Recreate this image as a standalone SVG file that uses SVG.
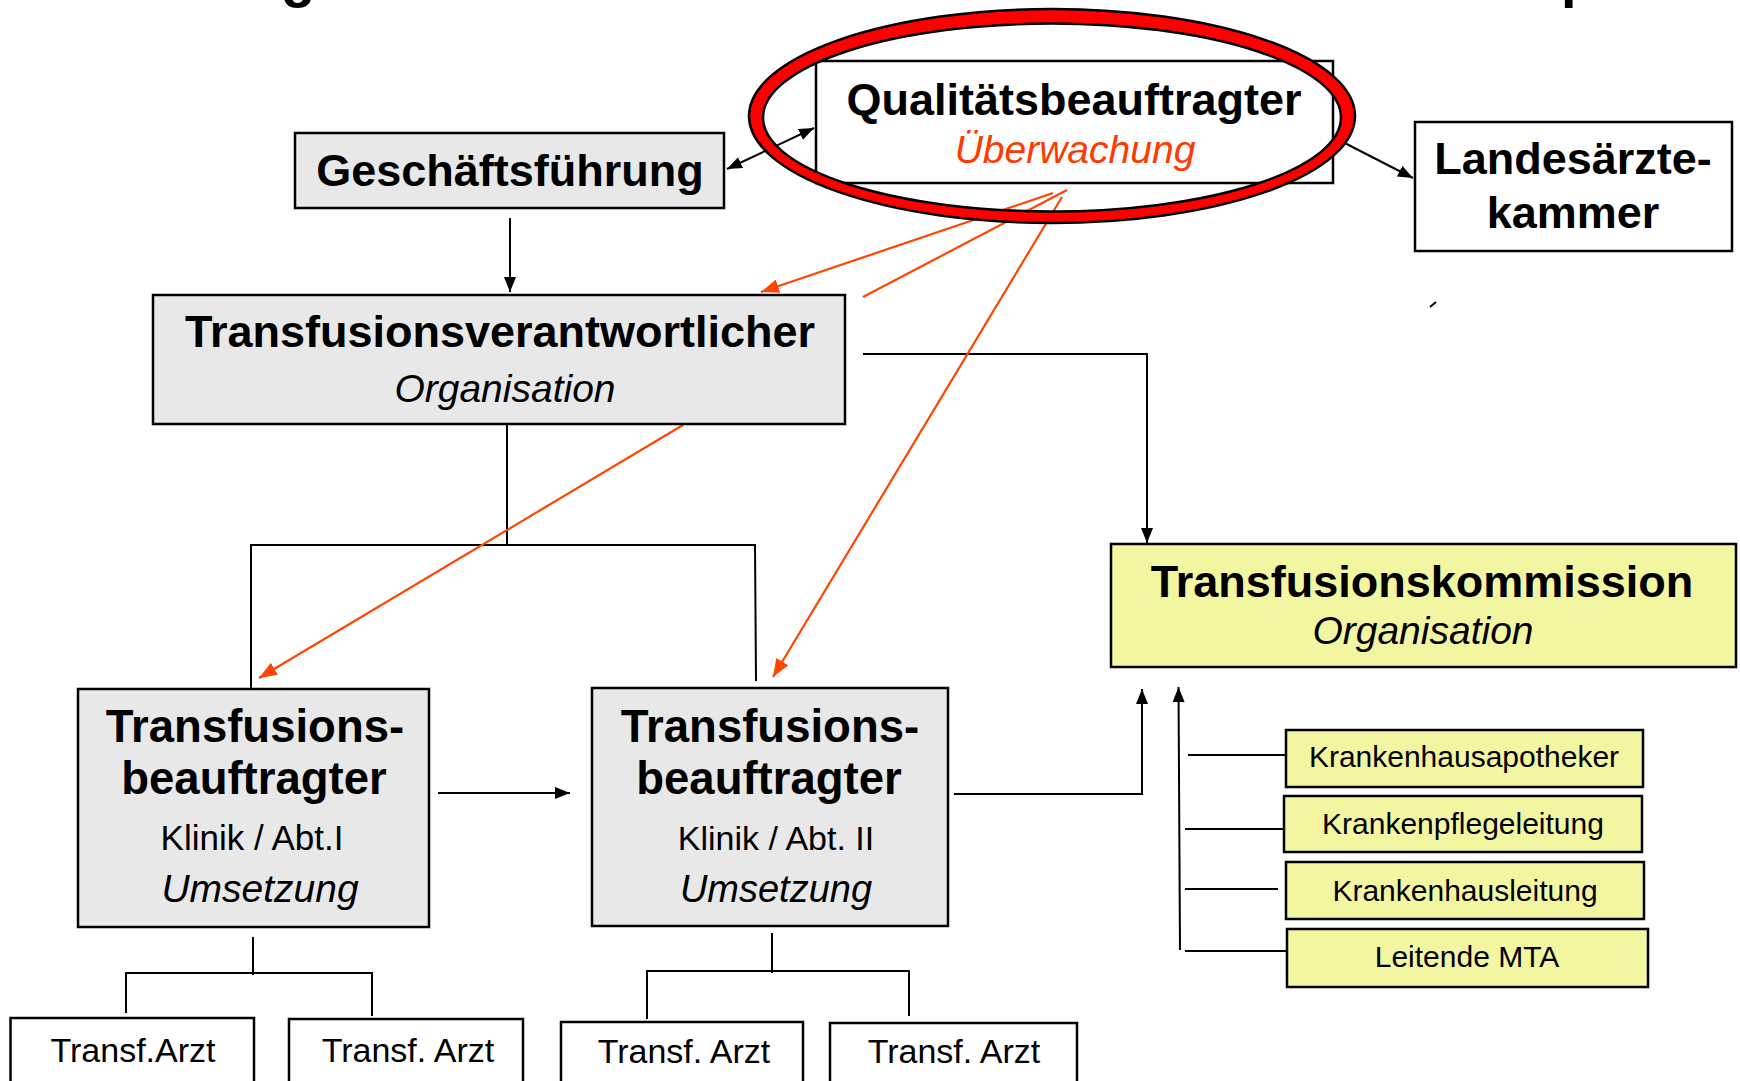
<svg xmlns="http://www.w3.org/2000/svg" width="1740" height="1081" viewBox="0 0 1740 1081">
  <style>
    .box { stroke: #000; stroke-width: 2.5; }
    .white { fill: #fff; }
    .grey { fill: #e8e8e8; }
    .yellow { fill: #f3f6a0; }
    text { font-family: "Liberation Sans", Arial, sans-serif; text-anchor: middle; fill: #000; }
    .b45 { font-size: 45px; font-weight: bold; }
    .b46 { font-size: 45.5px; font-weight: bold; }
    .i39 { font-size: 39px; font-style: italic; }
    .r34 { font-size: 34px; }
    .r30 { font-size: 30px; }
    .red { fill: #ff3a00; }
    .line { fill: none; stroke: #000; stroke-width: 2; }
    .oline { fill: none; stroke: #ff4500; stroke-width: 2.2; }
  </style>
  <defs>
    <marker id="ah" viewBox="0 0 15 12" refX="15" refY="6" markerWidth="15" markerHeight="12" markerUnits="userSpaceOnUse" orient="auto-start-reverse">
      <path d="M0,0 L15,6 L0,12 z" fill="#000"/>
    </marker>
    <marker id="ahOrange" viewBox="0 0 18 14" refX="18" refY="7" markerWidth="18" markerHeight="14" markerUnits="userSpaceOnUse" orient="auto">
      <path d="M0,0 L18,7 L0,14 z" fill="#ff4500"/>
    </marker>
  </defs>

  <rect width="1740" height="1081" fill="#fff"/>

  <!-- title descenders clipped by the top edge -->
  <g id="title-fragment">
    <text x="281" y="-4" style="font-size:56px;font-weight:bold;text-anchor:start">g</text>
    <text x="1561" y="-4" style="font-size:56px;font-weight:bold;text-anchor:start">p</text>
  </g>

  <g id="connectors">
    <line class="line" x1="727" y1="169" x2="814" y2="128" marker-start="url(#ah)" marker-end="url(#ah)"/>
    <line class="line" x1="1333" y1="137" x2="1413" y2="178" marker-end="url(#ah)"/>
    <line class="line" x1="510" y1="218" x2="510" y2="292" marker-end="url(#ah)"/>
    <polyline class="line" points="863,354 1147,354 1147,543" marker-end="url(#ah)"/>
    <!-- Transfusionsverantwortlicher to the two departments -->
    <line class="line" x1="507" y1="424" x2="507" y2="545"/>
    <polyline class="line" points="251,690 251,545 755,545 756,681"/>
    <line class="line" x1="438" y1="793" x2="570" y2="793" marker-end="url(#ah)"/>
    <polyline class="line" points="954,794 1142,794 1142,689" marker-end="url(#ah)"/>
    <!-- members feed into the commission -->
    <line class="line" x1="1180" y1="950" x2="1178.5" y2="687" marker-end="url(#ah)"/>
    <line class="line" x1="1188" y1="755" x2="1286" y2="755"/>
    <line class="line" x1="1185" y1="829" x2="1284" y2="829"/>
    <line class="line" x1="1185" y1="889" x2="1278" y2="889"/>
    <line class="line" x1="1185" y1="951" x2="1287" y2="951"/>
    <!-- department I doctors -->
    <line class="line" x1="253" y1="937" x2="253" y2="975"/>
    <polyline class="line" points="126,1013 126,973 372,973 372,1016"/>
    <!-- department II doctors -->
    <line class="line" x1="772" y1="933" x2="772" y2="973"/>
    <polyline class="line" points="647,1019 647,971 909,971 909,1016"/>
    <!-- supervision lines -->
    <line class="oline" x1="1053" y1="193" x2="761" y2="292" marker-end="url(#ahOrange)"/>
    <line class="oline" x1="1067" y1="190" x2="863" y2="297"/>
    <line class="oline" x1="1062" y1="197" x2="773" y2="677" marker-end="url(#ahOrange)"/>
    <line class="oline" x1="683" y1="425" x2="259" y2="678" marker-end="url(#ahOrange)"/>
    <line class="line" x1="1430" y1="307" x2="1436" y2="302"/>
  </g>

  <g id="qualitaetsbeauftragter">
    <rect class="box white" x="816" y="61" width="517" height="122"/>
    <text class="b45" x="1074" y="115">Qualitätsbeauftragter</text>
    <text class="i39 red" x="1075" y="163">Überwachung</text>
  </g>

  <g id="geschaeftsfuehrung">
    <rect class="box grey" x="295" y="133" width="429" height="75"/>
    <text class="b45" x="510" y="186">Geschäftsführung</text>
  </g>

  <g id="landesaerztekammer">
    <rect class="box white" x="1415" y="122" width="317" height="129"/>
    <text class="b45" x="1573" y="174">Landesärzte-</text>
    <text class="b45" x="1573" y="228">kammer</text>
  </g>

  <g id="transfusionsverantwortlicher">
    <rect class="box grey" x="153" y="295" width="692" height="129"/>
    <text class="b45" x="500" y="347">Transfusionsverantwortlicher</text>
    <text class="i39" x="505" y="402">Organisation</text>
  </g>

  <g id="transfusionskommission">
    <rect class="box yellow" x="1111" y="544" width="625" height="123"/>
    <text class="b45" x="1422" y="597">Transfusionskommission</text>
    <text class="i39" x="1423" y="644">Organisation</text>
  </g>

  <g id="tb-abt-1">
    <rect class="box grey" x="78" y="689" width="351" height="238"/>
    <text class="b46" x="255" y="742">Transfusions-</text>
    <text class="b46" x="254" y="794">beauftragter</text>
    <text x="252" y="850" style="font-size:35px">Klinik / Abt.I</text>
    <text class="i39" x="260" y="902">Umsetzung</text>
  </g>

  <g id="tb-abt-2">
    <rect class="box grey" x="592" y="688" width="356" height="238"/>
    <text class="b46" x="770" y="742">Transfusions-</text>
    <text class="b46" x="769" y="794">beauftragter</text>
    <text x="776" y="850" style="font-size:34px">Klinik / Abt. II</text>
    <text class="i39" x="776" y="902" style="font-size:38px">Umsetzung</text>
  </g>

  <g id="krankenhausapotheker">
    <rect class="box yellow" x="1286" y="730" width="357" height="57"/>
    <text class="r30" x="1464" y="767">Krankenhausapotheker</text>
  </g>
  <g id="krankenpflegeleitung">
    <rect class="box yellow" x="1284" y="796" width="358" height="56"/>
    <text class="r30" x="1463" y="834">Krankenpflegeleitung</text>
  </g>
  <g id="krankenhausleitung">
    <rect class="box yellow" x="1286" y="862" width="358" height="57"/>
    <text class="r30" x="1465" y="901">Krankenhausleitung</text>
  </g>
  <g id="leitende-mta">
    <rect class="box yellow" x="1287" y="929" width="361" height="58"/>
    <text class="r30" x="1467" y="967">Leitende MTA</text>
  </g>

  <g id="arzt-1">
    <rect class="box white" x="10.5" y="1018" width="243.5" height="80"/>
    <text class="r34" x="133" y="1062">Transf.Arzt</text>
  </g>
  <g id="arzt-2">
    <rect class="box white" x="289" y="1019" width="234" height="80"/>
    <text class="r34" x="408" y="1062">Transf. Arzt</text>
  </g>
  <g id="arzt-3">
    <rect class="box white" x="561" y="1022" width="242" height="80"/>
    <text class="r34" x="684" y="1063">Transf. Arzt</text>
  </g>
  <g id="arzt-4">
    <rect class="box white" x="830" y="1023" width="247" height="80"/>
    <text class="r34" x="954" y="1063">Transf. Arzt</text>
  </g>

  <!-- red highlight ring drawn over the quality officer -->
  <g id="highlight">
    <path d="M749,116 a303,107 0 1,0 606,0 a303,107 0 1,0 -606,0 Z M763,117.5 a289,94 0 1,0 578,0 a289,94 0 1,0 -578,0 Z" fill="#ff0000" fill-rule="evenodd" stroke="#000" stroke-width="2.5"/>
  </g>
</svg>
